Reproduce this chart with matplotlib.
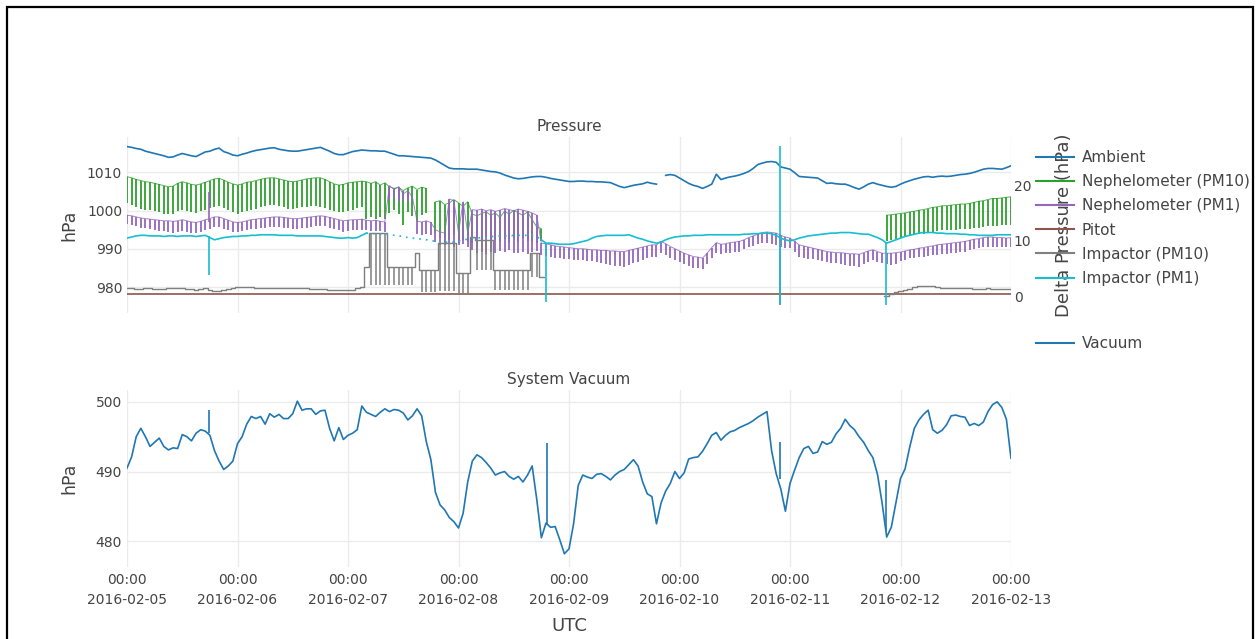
import numpy as np
import matplotlib.pyplot as plt
import matplotlib.dates as mdates
from matplotlib.lines import Line2D
from matplotlib.patches import Rectangle
from datetime import datetime

nan = np.nan

# hourly samples from 2016-02-05 00:00 to 2016-02-13 00:00
hours = np.arange(193)
t0 = mdates.date2num(datetime(2016, 2, 5))
t = t0 + hours / 24

ambient = [
    1016.7, 1016.5, 1016.2, 1016.0, 1015.5, 1015.2, 1014.9, 1014.6, 1014.3, 1013.9, 1014.0, 1014.5,
    1014.9, 1014.6, 1014.3, 1014.1, 1014.7, 1015.3, 1015.5, 1016.0, 1016.3, 1015.4, 1015.0, 1014.5,
    1014.3, 1014.7, 1015.0, 1015.4, 1015.7, 1015.9, 1016.1, 1016.3, 1016.4, 1016.0, 1015.8, 1015.6,
    1015.5, 1015.5, 1015.7, 1015.9, 1016.1, 1016.3, 1016.5, 1016.0, 1015.5, 1014.9, 1014.6, 1014.6,
    1015.0, 1015.4, 1015.6, 1015.8, 1015.7, 1015.6, 1015.6, 1015.5, 1015.5, 1015.1, 1014.7, 1014.3,
    1014.3, 1014.2, 1014.1, 1014.0, 1013.9, 1013.8, 1013.7, 1013.2, 1012.5, 1011.8, 1011.1, 1010.9,
    1010.9, 1010.9, 1010.8, 1010.8, 1010.8, 1010.6, 1010.4, 1010.2, 1010.1, 1009.8, 1009.3, 1008.9,
    1008.5, 1008.3, 1008.4, 1008.6, 1008.8, 1008.9, 1008.9, 1008.7, 1008.4, 1008.2, 1008.0, 1007.8,
    1007.6, 1007.6, 1007.7, 1007.7, 1007.6, 1007.6, 1007.5, 1007.5, 1007.4, 1007.3, 1006.8, 1006.3,
    1006.0, 1006.3, 1006.6, 1006.8, 1007.0, 1007.4, 1007.1, 1006.9, nan, 1009.2, 1009.4, 1009.2,
    1008.5, 1007.8, 1007.1, 1006.6, 1006.3, 1005.8, 1006.3, 1006.9, 1009.5, 1008.1, 1008.5, 1008.8,
    1009.0, 1009.3, 1009.7, 1010.2, 1011.0, 1012.0, 1012.4, 1012.7, 1012.8, 1012.6, 1011.4, 1011.1,
    1010.8, 1009.9, 1008.9, 1008.8, 1008.7, 1008.6, 1008.5, 1007.8, 1007.1, 1007.2, 1007.0, 1006.9,
    1006.9, 1006.5, 1006.0, 1005.6, 1006.2, 1006.9, 1007.3, 1006.9, 1006.6, 1006.3, 1006.1, 1006.3,
    1006.9, 1007.4, 1007.8, 1008.2, 1008.5, 1008.8, 1008.9, 1008.7, 1008.9, 1009.0, 1008.9, 1009.0,
    1009.2, 1009.4, 1009.5, 1009.7, 1010.0, 1010.4, 1010.8, 1011.0, 1011.0, 1010.9, 1010.8, 1011.2,
    1011.7]

# nephelometer PM10: top of each tooth and bottom of each tooth
neph10_top = [
    21.5, 21.3, 21.0, 20.8, 20.6, 20.5, 20.3, 20.1, 19.9, 19.7, 19.8, 20.3,
    20.6, 20.4, 20.1, 20.0, 20.2, 20.5, 20.8, 21.1, 21.2, 20.9, 20.5, 20.2,
    20.0, 20.2, 20.5, 20.6, 20.8, 21.0, 21.2, 21.3, 21.3, 21.1, 20.9, 20.7,
    20.6, 20.7, 20.9, 21.1, 21.2, 21.3, 21.3, 21.0, 20.6, 20.2, 20.0, 20.1,
    20.4, 20.5, 20.6, 20.7, 20.6, 20.3, 20.6, 20.0, 20.4, 19.7, 19.4, 19.6,
    19.0, 19.5, 19.8, 19.2, 19.6, 19.4, nan, 17.0, 17.2, 16.5, 16.8, 17.4,
    16.8, 16.2, 17.0, 14.8, 14.5, 14.9, 15.2, 14.6, 15.0, 14.2, 15.3, 14.8,
    15.5, 15.0, 14.6, 15.2, 13.8, 12.5, 12.2, nan, nan, nan, nan, nan,
    nan, nan, nan, nan, nan, nan, nan, nan, nan, nan, nan, nan,
    nan, nan, nan, nan, nan, nan, nan, nan, nan, nan, nan, nan,
    nan, nan, nan, nan, nan, nan, nan, nan, nan, nan, nan, nan,
    nan, nan, nan, nan, nan, nan, nan, nan, nan, nan, nan, nan,
    nan, nan, nan, nan, nan, nan, nan, nan, nan, nan, nan, nan,
    nan, nan, nan, nan, nan, nan, nan, nan, nan, 14.6, 14.7, 14.8,
    14.9, 15.0, 15.2, 15.3, 15.5, 15.6, 15.8, 16.0, 16.1, 16.3, 16.3, 16.4,
    16.5, 16.6, 16.6, 16.7, 16.9, 17.1, 17.2, 17.4, 17.6, 17.6, 17.7, 17.8,
    17.9]
neph10_bot = [
    16.7, 16.4, 16.0, 15.8, 15.6, 15.5, 15.3, 15.1, 14.9, 14.8, 14.9, 15.3,
    15.6, 15.4, 15.2, 15.0, 15.3, 15.6, 15.9, 16.1, 16.2, 15.9, 15.5, 15.1,
    14.9, 15.1, 15.4, 15.5, 15.8, 16.0, 16.2, 16.4, 16.4, 16.2, 16.0, 15.8,
    15.8, 15.9, 16.0, 16.1, 16.2, 16.2, 16.1, 15.9, 15.6, 15.3, 15.2, 15.2,
    15.3, 15.6, 15.9, 16.1, 14.0, 14.2, 14.0, 14.3, 14.0, 15.0, 15.5, 14.8,
    12.8, 15.2, 14.5, 13.5, 14.6, 15.0, nan, 11.5, 10.5, 9.6, 10.2, 11.0,
    9.6, 10.2, 9.8, 9.6, 10.6, 9.8, 10.5, 9.6, 10.2, 9.8, 10.4, 9.7,
    10.3, 9.8, 10.5, 10.0, 9.9, 9.6, 10.0, nan, nan, nan, nan, nan,
    nan, nan, nan, nan, nan, nan, nan, nan, nan, nan, nan, nan,
    nan, nan, nan, nan, nan, nan, nan, nan, nan, nan, nan, nan,
    nan, nan, nan, nan, nan, nan, nan, nan, nan, nan, nan, nan,
    nan, nan, nan, nan, nan, nan, nan, nan, nan, nan, nan, nan,
    nan, nan, nan, nan, nan, nan, nan, nan, nan, nan, nan, nan,
    nan, nan, nan, nan, nan, nan, nan, nan, nan, 9.9, 10.1, 10.3,
    10.5, 10.7, 10.9, 11.0, 11.2, 11.3, 11.5, 11.6, 11.8, 11.9, 11.9, 12.0,
    12.0, 12.1, 12.2, 12.2, 12.3, 12.4, 12.5, 12.6, 12.7, 12.7, 12.8, 12.8,
    12.8]

neph1_top = [
    14.6, 14.5, 14.3, 14.1, 14.0, 13.9, 13.8, 13.7, 13.6, 13.6, 13.5, 13.6,
    13.8, 13.6, 13.4, 13.3, 13.5, 13.8, 14.0, 14.3, 14.3, 14.0, 13.7, 13.4,
    13.3, 13.4, 13.6, 13.8, 13.9, 14.0, 14.1, 14.2, 14.3, 14.3, 14.2, 14.1,
    14.0, 14.0, 14.1, 14.2, 14.3, 14.4, 14.5, 14.4, 14.2, 14.0, 13.8, 13.6,
    13.7, 13.8, 13.8, 13.9, 13.7, 13.6, 13.7, 13.5, 13.4, 19.9, 19.2, 19.7,
    18.4, 19.0, 17.8, 13.5, 13.4, 13.6, 13.3, 12.0, 11.6, 11.4, 17.5, 17.2,
    11.5, 17.0, 11.4, 15.6, 15.5, 15.7, 15.4, 15.6, 15.3, 15.5, 15.8, 15.6,
    15.4, 15.7, 15.5, 15.3, 15.0, 14.6, 9.6, 9.5, 9.3, 9.1, 9.0, 8.9,
    8.8, 8.7, 8.6, 8.6, 8.5, 8.4, 8.4, 8.3, 8.3, 8.2, 8.2, 8.1,
    8.1, 8.3, 8.5, 8.7, 8.9, 9.1, 9.3, 9.3, 9.9, 9.5, 9.0, 8.6,
    8.2, 7.8, 7.5, 7.2, 7.1, 6.9, 7.8, 8.8, 9.7, 9.4, 9.5, 9.7,
    9.8, 9.9, 10.2, 10.6, 10.9, 11.2, 11.5, 11.6, 11.5, 11.4, 11.0, 10.7,
    10.5, 9.9, 9.3, 9.1, 8.9, 8.7, 8.5, 8.3, 8.1, 8.0, 7.9, 7.9,
    7.8, 7.7, 7.7, 7.6, 7.9, 8.2, 8.4, 8.1, 7.8, 7.8, 7.8, 7.9,
    8.0, 8.2, 8.4, 8.5, 8.7, 8.8, 9.0, 9.1, 9.3, 9.4, 9.5, 9.6,
    9.7, 9.8, 9.9, 10.1, 10.3, 10.4, 10.6, 10.7, 10.7, 10.6, 10.6, 10.5,
    10.6]
neph1_bot = [
    13.0, 12.8, 12.6, 12.4, 12.3, 12.1, 12.0, 11.8, 11.7, 11.6, 11.5, 11.6,
    11.8, 11.6, 11.4, 11.4, 11.6, 11.9, 12.2, 12.5, 12.5, 12.2, 11.9, 11.6,
    11.6, 11.7, 11.9, 12.1, 12.2, 12.3, 12.4, 12.5, 12.5, 12.5, 12.4, 12.3,
    12.2, 12.2, 12.3, 12.4, 12.5, 12.6, 12.7, 12.6, 12.4, 12.2, 11.9, 11.6,
    11.8, 11.9, 12.0, 12.0, 11.9, 11.8, 11.8, 11.7, 11.6, 17.4, 17.6, 17.0,
    17.3, 16.9, 17.5, 11.2, 11.0, 11.3, 11.1, 9.8, 9.3, 9.2, 9.4, 9.0,
    9.2, 9.5, 9.0, 8.4, 7.8, 8.1, 7.6, 8.0, 7.9, 8.2, 8.0, 8.3,
    7.8, 7.9, 8.1, 7.7, 8.0, 8.2, 7.5, 7.3, 7.2, 7.0, 6.9, 6.8,
    6.7, 6.6, 6.5, 6.5, 6.4, 6.4, 6.2, 6.0, 5.9, 5.7, 5.6, 5.5,
    5.4, 5.7, 6.0, 6.3, 6.6, 6.9, 7.1, 7.2, 7.9, 7.5, 7.0, 6.6,
    6.2, 5.8, 5.5, 5.2, 5.1, 4.9, 5.8, 6.9, 7.9, 7.6, 7.8, 7.9,
    8.0, 8.1, 8.5, 8.9, 9.1, 9.4, 9.6, 9.6, 9.5, 9.3, 9.0, 8.8,
    8.7, 8.0, 7.2, 7.0, 6.8, 6.7, 6.5, 6.4, 6.3, 6.1, 6.0, 5.8,
    5.7, 5.6, 5.5, 5.4, 5.8, 6.2, 6.6, 6.3, 6.0, 5.9, 5.7, 5.9,
    6.4, 6.6, 6.9, 7.0, 7.1, 7.2, 7.3, 7.4, 7.5, 7.6, 7.7, 7.8,
    7.9, 8.0, 8.1, 8.3, 8.5, 8.7, 8.9, 9.0, 9.0, 9.0, 9.0, 9.0,
    9.0]

pitot_hours = [0, 192]
pitot = [0.55, 0.55]

impactor10 = [
    1.5, 1.5, 1.4, 1.4, 1.5, 1.5, 1.4, 1.4, 1.4, 1.5, 1.5, 1.5,
    1.5, 1.4, 1.4, 1.3, 1.4, 1.5, 1.2, 1.0, 1.1, 1.2, 1.4, 1.6,
    1.7, 1.8, 1.7, 1.7, 1.6, 1.6, 1.6, 1.5, 1.5, 1.5, 1.6, 1.6,
    1.5, 1.5, 1.5, 1.5, 1.4, 1.4, 1.4, 1.4, 1.3, 1.3, 1.2, 1.2,
    1.2, 1.3, 1.5, 1.8, 5.4, 11.4, 11.4, 11.4, 11.4, 5.4, 5.4, 5.4,
    5.4, 5.4, 5.4, 7.8, 4.8, 4.8, 4.8, 4.8, 9.6, 9.6, 9.6, 9.6,
    4.2, 4.2, 4.2, 10.7, 10.2, 10.2, 10.2, 10.2, 4.8, 4.8, 4.8, 4.8,
    4.8, 4.8, 4.8, 4.8, 7.8, 7.8, 3.6, nan, nan, nan, nan, nan,
    nan, nan, nan, nan, nan, nan, nan, nan, nan, nan, nan, nan,
    nan, nan, nan, nan, nan, nan, nan, nan, nan, nan, nan, nan,
    nan, nan, nan, nan, nan, nan, nan, nan, nan, nan, nan, nan,
    nan, nan, nan, nan, nan, nan, nan, nan, nan, nan, nan, nan,
    nan, nan, nan, nan, nan, nan, nan, nan, nan, nan, nan, nan,
    nan, nan, nan, nan, nan, nan, nan, nan, nan, 0.2, 0.5, 0.8,
    1.0, 1.2, 1.4, 1.7, 1.9, 2.0, 2.0, 1.9, 1.8, 1.6, 1.6, 1.6,
    1.5, 1.5, 1.5, 1.5, 1.4, 1.4, 1.4, 1.5, 1.4, 1.4, 1.4, 1.4,
    1.4]
# low end of the drops in the unsettled stretch (2016-02-07 / 08), hours 0-95
impactor10_low = [
    nan, nan, nan, nan, nan, nan, nan, nan, nan, nan, nan, nan,
    nan, nan, nan, nan, nan, nan, nan, nan, nan, nan, nan, nan,
    nan, nan, nan, nan, nan, nan, nan, nan, nan, nan, nan, nan,
    nan, nan, nan, nan, nan, nan, nan, nan, nan, nan, nan, nan,
    nan, nan, nan, nan, nan, 2.1, 2.1, 2.1, 2.1, 2.1, 2.1, 2.1,
    2.1, 2.1, 2.1, nan, 0.9, 0.9, 0.9, 0.9, 1.0, 1.0, 1.0, 1.0,
    0.5, 0.5, 0.5, nan, 4.8, 4.8, 4.8, 4.8, 1.2, 1.2, 1.2, 1.2,
    1.2, 1.2, 1.2, 1.2, 3.6, 3.6, nan, nan, nan, nan, nan, nan]

impactor1 = [
    10.5, 10.7, 10.9, 11.0, 11.0, 10.9, 10.9, 10.9, 10.8, 10.9, 10.9, 10.8,
    10.9, 10.9, 10.9, 10.8, 10.9, 11.0, 10.6, 10.2, 10.4, 10.6, 10.7, 10.8,
    10.8, 10.9, 10.9, 11.0, 11.0, 11.1, 11.1, 11.1, 11.1, 11.0, 11.0, 11.0,
    11.0, 10.9, 10.9, 10.9, 10.9, 10.9, 10.9, 10.8, 10.7, 10.6, 10.5, 10.5,
    10.6, 10.5, 10.6, 11.0, 11.4, 11.3, 11.3, 11.2, 11.1, 11.2, 11.0, 10.9,
    10.8, 10.6, 10.5, 10.4, 10.3, 10.2, 10.1, 9.9, 9.8, 9.8, 9.7, 9.8,
    10.0, 10.2, 10.3, 10.5, 10.5, 10.6, 10.7, 10.8, 10.8, 10.9, 10.9, 10.9,
    11.0, 11.0, 11.0, 11.0, 11.0, 10.8, 10.2, 9.6, 9.6, 9.5, 9.4, 9.4,
    9.4, 9.5, 9.7, 9.9, 10.1, 10.5, 10.8, 10.9, 11.0, 11.0, 11.0, 11.0,
    11.0, 11.1, 10.8, 10.5, 10.3, 10.0, 9.8, 9.6, 9.8, 10.2, 10.5, 10.7,
    10.8, 10.9, 10.9, 11.0, 11.0, 11.0, 11.1, 11.1, 11.1, 11.1, 11.1, 11.1,
    11.1, 11.1, 11.2, 11.2, 11.3, 11.3, 11.4, 11.4, 11.3, 11.0, 10.5, 10.2,
    10.0, 10.2, 10.5, 10.7, 10.9, 11.0, 11.1, 11.2, 11.3, 11.4, 11.4, 11.5,
    11.5, 11.5, 11.4, 11.3, 11.2, 11.2, 10.9, 10.6, 10.2, 9.6, 9.9, 10.2,
    10.5, 10.8, 11.0, 11.2, 11.4, 11.5, 11.5, 11.5, 11.4, 11.4, 11.3, 11.3,
    11.3, 11.2, 11.2, 11.1, 11.1, 11.0, 11.0, 11.0, 11.0, 11.1, 11.1, 11.1,
    11.1]
# hours where the impactor PM1 trace is only dotted
gappy_start, gappy_end = 52, 90

vacuum = [
    490.5, 492.1, 495.0, 496.2, 495.0, 493.6, 494.2, 494.8, 493.6, 493.1, 493.4, 493.3,
    495.3, 495.0, 494.4, 495.5, 496.0, 495.8, 495.2, 493.0, 491.5, 490.3, 490.8, 491.5,
    494.0, 495.0, 496.8, 497.9, 497.6, 497.9, 496.8, 498.3, 497.8, 498.2, 497.6, 497.6,
    498.3, 500.1, 498.8, 499.0, 499.0, 498.2, 498.7, 498.8, 496.2, 494.4, 496.3, 494.6,
    495.2, 495.5, 496.0, 499.4, 498.5, 498.2, 497.9, 498.5, 499.0, 498.6, 498.9, 498.8,
    498.4, 497.4, 498.0, 499.0, 498.0, 494.3, 491.7, 487.0, 485.2, 484.5, 483.4, 482.8,
    481.9, 484.0, 488.5, 491.5, 492.4, 492.0, 491.3, 490.5, 489.5, 489.8, 490.0, 489.3,
    488.9, 489.3, 488.5, 489.5, 490.8, 486.0, 480.5, 482.6, 482.0, 482.1, 480.2, 478.2,
    478.9, 482.5, 488.0, 489.5, 489.2, 489.0, 489.6, 489.7, 489.3, 488.8, 489.5, 490.0,
    490.3, 491.0, 491.7, 490.8, 488.5, 486.8, 486.4, 482.5, 485.5, 487.2, 488.3, 490.0,
    489.0, 489.8, 491.8, 492.0, 492.1, 492.9, 494.0, 495.2, 495.6, 494.5, 495.2, 495.7,
    495.9, 496.3, 496.6, 496.9, 497.3, 497.8, 498.2, 498.6, 493.0, 489.7, 487.5, 484.3,
    488.3, 490.2, 492.0, 493.3, 493.6, 492.6, 492.8, 494.3, 493.9, 494.2, 495.4, 496.2,
    497.5, 496.6, 496.0, 495.0, 494.2, 493.0, 492.0, 489.6, 485.5, 480.6, 482.0, 485.5,
    489.0, 490.4, 493.5, 496.2, 497.4, 498.2, 498.8, 496.0, 495.5, 495.9, 496.7, 498.0,
    498.1, 497.9, 497.8, 496.6, 496.9, 496.6, 497.1, 498.6, 499.6, 500.0, 499.2, 497.5,
    491.9]

# short single-sample spikes (hours since start, low, high)
vac_spike_hours = [17.9, 91.2, 141.8, 164.8]
vac_spike_low = [495.6, 482.4, 488.9, 481.5]
vac_spike_high = [498.9, 494.1, 494.3, 488.8]
imp1_spike_hours = [17.9, 91.0, 141.9, 164.9]
imp1_spike_low = [3.9, -0.9, -1.2, -1.5]
imp1_spike_high = [10.9, 9.6, 26.9, 9.8]
neph1_spike_hours = [17.9, 141.8]
neph1_spike_low = [13.3, -1.5]
neph1_spike_high = [18.8, 11.0]

c_amb = '#1f77b4'
c_n10 = '#2ca02c'
c_n1 = '#9467bd'
c_pit = '#8c564b'
c_i10 = '#7f7f7f'
c_i1 = '#17becf'
txt = '#444444'

plt.rcParams['font.family'] = 'DejaVu Sans'

fig = plt.figure(figsize=(12.58, 6.39), dpi=100)
W, H = 1258, 639
ax = fig.add_axes([127 / W, 1 - 313 / H, 884 / W, 176 / H])
ax2 = ax.twinx()
axv = fig.add_axes([127 / W, 1 - 567 / H, 884 / W, 177 / H], sharex=ax)


def style(a, grid=True):
    for s in a.spines.values():
        s.set_visible(False)
    a.tick_params(length=0, labelcolor=txt, labelsize=10)
    if grid:
        a.grid(True, color='#ebebeb', lw=1)
        a.set_axisbelow(True)


style(ax)
style(ax2, grid=False)
style(axv)


def teeth(a, top, bot, color, lw_top=0.7, lw=1.3):
    top = np.array(top, dtype=float)
    bot = np.array(bot, dtype=float)
    ok = ~np.isnan(top) & ~np.isnan(bot)
    a.vlines(t[ok], bot[ok], top[ok], color=color, lw=lw)
    a.plot(t, top, color=color, lw=lw_top, alpha=0.8)


ax.plot(t, ambient, color=c_amb, lw=1.2)

teeth(ax2, neph10_top, neph10_bot, c_n10)
teeth(ax2, neph1_top, neph1_bot, c_n1)
ax2.vlines(t0 + np.array(neph1_spike_hours) / 24, neph1_spike_low, neph1_spike_high, color=c_n1, lw=1.2)

ax2.plot(t0 + np.array(pitot_hours) / 24, pitot, color=c_pit, lw=1.2)

i10 = np.array(impactor10, dtype=float)
i10_low = np.full(193, nan)
i10_low[:len(impactor10_low)] = impactor10_low
ok = ~np.isnan(i10_low)
ax2.vlines(t[ok], i10_low[ok], i10[ok], color=c_i10, lw=1.1)
ax2.plot(t, i10, color=c_i10, lw=1.0, drawstyle='steps-mid')

i1 = np.array(impactor1, dtype=float)
gappy = (hours > gappy_start) & (hours < gappy_end)
ax2.plot(t, np.where(gappy, nan, i1), color=c_i1, lw=1.2)
ax2.plot(t, np.where(gappy | (hours == gappy_start) | (hours == gappy_end), i1, nan),
         color=c_i1, lw=1.2, ls=(0, (1, 3)))
ax2.vlines(t0 + np.array(imp1_spike_hours) / 24, imp1_spike_low, imp1_spike_high, color=c_i1, lw=1.2)

axv.plot(t, vacuum, color=c_amb, lw=1.2)
axv.vlines(t0 + np.array(vac_spike_hours) / 24, vac_spike_low, vac_spike_high, color=c_amb, lw=1.2)

ax.set_xlim(t[0], t[-1])
ax.set_ylim(973.3, 1019.2)
ax.set_yticks([980, 990, 1000, 1010])
ax2.set_ylim(-2.9, 28.6)
ax2.set_yticks([0, 10, 20])
ax2.tick_params(pad=2)
axv.set_ylim(476.3, 501.7)
axv.set_yticks([480, 490, 500])

axv.xaxis.set_major_locator(mdates.DayLocator())
axv.xaxis.set_major_formatter(mdates.DateFormatter('%H:%M\n%Y-%m-%d'))
ax.tick_params(axis='x', labelbottom=False)
axv.tick_params(axis='x', pad=4)
for lbl in axv.get_xticklabels():
    lbl.set_linespacing(1.6)

ax.set_title('Pressure', fontsize=11, color=txt, pad=4)
axv.set_title('System Vacuum', fontsize=11, color=txt, pad=4)
ax.set_ylabel('hPa', fontsize=12.5, color=txt)
ax.yaxis.set_label_coords(-0.055, 0.5)
axv.set_ylabel('hPa', fontsize=12.5, color=txt)
axv.yaxis.set_label_coords(-0.055, 0.5)
ax2.set_ylabel('Delta Pressure (hPa)', fontsize=13, color=txt)
ax2.yaxis.set_label_coords(1.05, 0.5)
axv.set_xlabel('UTC', fontsize=13, color=txt)
axv.xaxis.set_label_coords(0.5, -0.285)
axv.xaxis.label.set_va('top')

names = ['Ambient', 'Nephelometer (PM10)', 'Nephelometer (PM1)', 'Pitot',
         'Impactor (PM10)', 'Impactor (PM1)']
colors = [c_amb, c_n10, c_n1, c_pit, c_i10, c_i1]
handles = [Line2D([], [], color=c, lw=1.5) for c in colors]
fig.legend(handles, names, loc='upper left', bbox_to_anchor=(1030 / W, 1 - 144 / H),
           frameon=False, fontsize=11, handlelength=2.5, handletextpad=0.5,
           labelspacing=0.6, labelcolor=txt, borderaxespad=0)
fig.legend([Line2D([], [], color=c_amb, lw=1.5)], ['Vacuum'], loc='upper left',
           bbox_to_anchor=(1030 / W, 1 - 330 / H), frameon=False, fontsize=11,
           handlelength=2.5, handletextpad=0.5, labelcolor=txt, borderaxespad=0)

fig.patches.append(Rectangle((7 / W, -0.05), 1246 / W, 1.05 - 7 / H, transform=fig.transFigure,
                             fill=False, edgecolor='black', lw=1.6))

plt.savefig('out.png', dpi=100)
